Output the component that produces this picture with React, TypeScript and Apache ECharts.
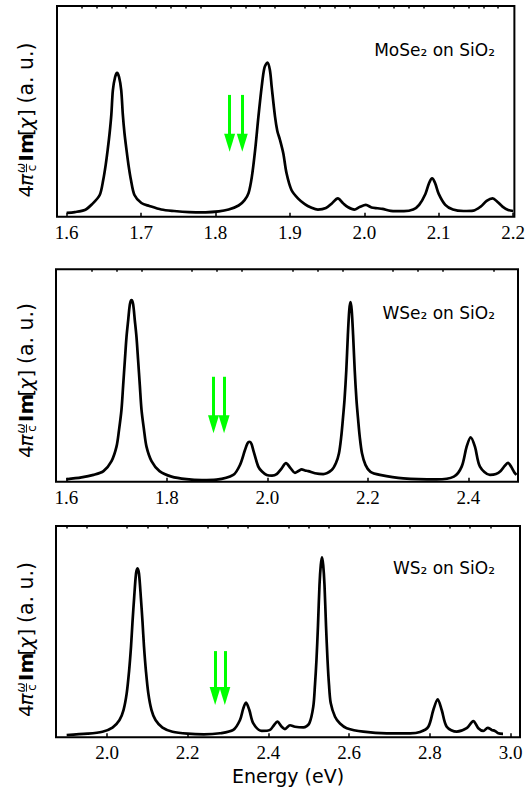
import React, { useEffect, useRef } from "react";
import * as echarts from "echarts";

// ---------- data ----------
const mose2Curve: number[][] = [
  [1.6, 1.8], [1.611, 2.2], [1.6244, 3.2], [1.6337, 5.8], [1.6444, 10.3], [1.6491, 17.4],
  [1.6524, 24.5], [1.6551, 31.7], [1.6577, 39.6], [1.66, 48.3], [1.6621, 60.1], [1.6651, 66.3],
  [1.6677, 68.3], [1.6704, 66.3], [1.6733, 60.1], [1.6755, 48.3], [1.6777, 39.6], [1.6804, 31.7],
  [1.6831, 24.5], [1.6864, 17.4], [1.6911, 10.3], [1.7004, 6.5], [1.7111, 5.1], [1.7271, 3.4],
  [1.7444, 2.7], [1.7644, 2.2], [1.7867, 2.1], [1.8044, 2.5], [1.8177, 3.4], [1.8311, 5.3],
  [1.8391, 7.9], [1.8444, 11.2], [1.8488, 18.8], [1.8533, 31.7], [1.8577, 47.5], [1.8621, 61.7],
  [1.8657, 70.6], [1.8697, 73.1], [1.8731, 69.6], [1.8755, 61.7], [1.88, 47.5], [1.8831, 40.7],
  [1.8867, 36.4], [1.8911, 30.1], [1.8955, 20.6], [1.9021, 12.7], [1.9111, 8.6], [1.92, 6.0],
  [1.9284, 4.4], [1.9377, 3.4], [1.9484, 4.1], [1.9564, 6.3], [1.9644, 8.7], [1.9711, 6.5],
  [1.9777, 4.6], [1.9867, 3.4], [1.9937, 4.6], [2.0021, 5.6], [2.0097, 4.4], [2.0177, 4.0],
  [2.0244, 3.7], [2.0355, 2.8], [2.0533, 2.6], [2.0657, 3.4], [2.0737, 5.6], [2.0821, 10.8],
  [2.0871, 16.0], [2.0911, 18.2], [2.0951, 16.0], [2.1, 10.8], [2.1088, 5.6], [2.1191, 3.4],
  [2.1333, 2.7], [2.1467, 2.9], [2.1564, 4.8], [2.1644, 7.5], [2.1724, 8.7], [2.1791, 7.0],
  [2.1857, 4.8], [2.1933, 3.2], [2.2, 2.7],
];

const wse2Curve: number[][] = [
  [1.6, 1.1], [1.6302, 2.0], [1.6541, 3.2], [1.674, 5.0], [1.69, 9.7], [1.6999, 16.5],
  [1.7049, 24.3], [1.7098, 33.8], [1.7132, 45.5], [1.7166, 57.3], [1.7198, 68.1], [1.7232, 76.1],
  [1.7266, 83.6], [1.7298, 85.5], [1.733, 83.6], [1.7363, 76.1], [1.7397, 68.1], [1.7429, 57.3],
  [1.7463, 45.5], [1.7497, 33.8], [1.7547, 24.3], [1.7596, 16.5], [1.7696, 9.7], [1.7855, 5.0],
  [1.8094, 2.4], [1.8392, 1.2], [1.87, 0.8], [1.8989, 1.0], [1.9323, 3.2], [1.9457, 7.9],
  [1.9556, 14.9], [1.9606, 18.0], [1.9642, 18.8], [1.9682, 18.0], [1.9721, 14.9], [1.9821, 7.1],
  [1.9895, 4.8], [1.9988, 3.2], [2.0094, 2.9], [2.0187, 3.6], [2.0287, 6.3], [2.0372, 8.7],
  [2.0466, 6.3], [2.0551, 4.2], [2.0621, 5.0], [2.0685, 5.8], [2.075, 5.3], [2.0816, 5.0],
  [2.0949, 4.0], [2.1114, 3.6], [2.1282, 5.5], [2.1367, 8.8], [2.1427, 13.4], [2.1471, 21.0],
  [2.1503, 29.0], [2.1537, 38.5], [2.1573, 52.6], [2.1604, 69.1], [2.1632, 80.8], [2.1656, 84.5],
  [2.168, 80.8], [2.1708, 69.1], [2.174, 52.6], [2.1775, 38.5], [2.1809, 29.0], [2.1841, 21.0],
  [2.1885, 13.4], [2.1954, 7.9], [2.2054, 4.6], [2.2243, 3.2], [2.2707, 1.6], [2.3371, 1.1],
  [2.3713, 2.4], [2.3869, 7.1], [2.3968, 16.5], [2.4048, 20.9], [2.4133, 16.5], [2.4233, 7.1],
  [2.4432, 3.2], [2.4551, 3.6], [2.4645, 5.0], [2.472, 7.3], [2.479, 8.9], [2.4855, 7.0],
  [2.4915, 4.5], [2.496, 3.2],
];

const ws2Curve: number[][] = [
  [1.9, 1.1], [1.9517, 1.7], [1.9888, 2.65], [2.0136, 4.6], [2.031, 8.2], [2.0409, 12.9],
  [2.0488, 20.8], [2.0545, 30.9], [2.0595, 42.9], [2.0632, 54.6], [2.0672, 65.9], [2.0719, 77.4],
  [2.0756, 80.0], [2.0793, 77.4], [2.084, 65.9], [2.088, 54.6], [2.0917, 42.9], [2.0967, 30.9],
  [2.1024, 20.8], [2.1103, 12.9], [2.1202, 8.2], [2.1375, 4.6], [2.1623, 2.65], [2.1995, 1.7],
  [2.24, 1.4], [2.28, 1.9], [2.313, 3.5], [2.3296, 8.2], [2.3378, 13.7], [2.3445, 16.4],
  [2.3527, 12.9], [2.3626, 6.6], [2.3834, 3.0], [2.404, 3.5], [2.4139, 5.8], [2.4221, 7.4],
  [2.433, 5.0], [2.4411, 3.9], [2.4535, 5.7], [2.4659, 5.0], [2.4865, 4.7], [2.5013, 6.6],
  [2.5112, 14.5], [2.5154, 24.8], [2.5191, 36.6], [2.5229, 53.1], [2.5266, 72.1], [2.5298, 81.5],
  [2.5328, 85.2], [2.5358, 81.5], [2.539, 72.1], [2.5427, 53.1], [2.5465, 36.6], [2.5502, 24.8],
  [2.5544, 16.2], [2.5651, 9.7], [2.5774, 6.5], [2.5941, 4.3], [2.6352, 2.65], [2.6932, 1.9],
  [2.7509, 1.9], [2.7757, 2.5], [2.7963, 5.0], [2.8087, 12.9], [2.8196, 18.0], [2.8295, 12.9],
  [2.8419, 5.0], [2.8667, 2.65], [2.8914, 4.3], [2.9078, 7.7], [2.9202, 4.3], [2.9326, 3.0],
  [2.9435, 4.5], [2.9534, 3.5], [2.9616, 3.0], [2.9698, 1.9], [2.9814, 1.6],
];

// arrow annotations: energies, arrow top value, arrow-head centre value
const mose2Arrows = [1.819, 1.836];
const wse2Arrows = [1.893, 1.914];
const ws2Arrows = [2.268, 2.292];
const arrowTop = [57.8, 49.4, 40.8];
const arrowHead = [35.1, 27.0, 19.6];

// axis ticks
const mose2Ticks = [1.6, 1.7, 1.8, 1.9, 2.0, 2.1, 2.2];
const wse2Ticks = [1.6, 1.8, 2.0, 2.2, 2.4];
const ws2Ticks = [2.0, 2.2, 2.4, 2.6, 2.8, 3.0];
const minorSpec = [
  [1.6, 2.2, 0.02],
  [1.6, 2.45, 0.05],
  [1.9, 3.0, 0.05],
];
const xRanges = [
  [1.587, 2.2017],
  [1.5795, 2.499],
  [1.8736, 3.0235],
];

const titles = ["MoSe₂ on SiO₂", "WSe₂ on SiO₂", "WS₂ on SiO₂"];

// ---------- layout ----------
const grids = [
  { left: 57, top: 6, width: 461, height: 210.7 },
  { left: 56, top: 269.3, width: 462, height: 212.4 },
  { left: 56, top: 526, width: 464, height: 211.3 },
];
const titleY = [50, 312.5, 568];
const ylabelStart = [197.5, 458, 717];

const SANS = '"DejaVu Sans", sans-serif';
const SERIF = '"Liberation Serif", serif';

function minorTicks(from: number, to: number, step: number, majors: number[]) {
  const out: number[] = [];
  const n = Math.round((to - from) / step);
  for (let i = 0; i <= n; i++) {
    const v = Math.round((from + i * step) * 1000) / 1000;
    if (!majors.some((m) => Math.abs(m - v) < 1e-6)) out.push(v);
  }
  return out;
}

function yLabel(x: number, y: number) {
  const t = (text: string, lx: number, font: string, ly = 0, align = "left") => ({
    type: "text",
    x: lx,
    y: ly,
    style: { text, font, fill: "#000", align, verticalAlign: "middle" },
  });
  return {
    type: "group",
    x,
    y,
    rotation: Math.PI / 2,
    silent: true,
    children: [
      t("4", 0, `20px ${SANS}`),
      t("π", 11.5, `italic 20px ${SANS}`),
      t("ω", 29.5, `italic 12px ${SANS}`, -5.5, "center"),
      {
        type: "line",
        shape: { x1: 25.3, y1: 0.5, x2: 33.7, y2: 0.5 },
        style: { stroke: "#000", lineWidth: 0.9 },
      },
      t("c", 29.5, `12px ${SANS}`, 6.3, "center"),
      t("Im", 36, `bold 20px ${SANS}`),
      t("[", 61.5, `20px ${SANS}`),
      t("χ", 68, `italic 20px ${SANS}`),
      t("]", 80.5, `20px ${SANS}`),
      t("(a. u.)", 94, `20.5px ${SANS}`),
    ],
  };
}

export default function App() {
  const ref = useRef<HTMLDivElement>(null);
  useEffect(() => {
    if (!ref.current) return;
    const chart = echarts.init(ref.current, undefined, { renderer: "svg" });
    const majors = [mose2Ticks, wse2Ticks, ws2Ticks];
    const curves = [mose2Curve, wse2Curve, ws2Curve];
    const arrows = [mose2Arrows, wse2Arrows, ws2Arrows];

    const xAxis: any[] = [];
    const yAxis: any[] = [];
    const series: any[] = [];
    grids.forEach((g, i) => {
      const [mn, mx] = xRanges[i];
      xAxis.push({
        type: "value",
        gridIndex: i,
        min: mn,
        max: mx,
        splitLine: { show: false },
        axisLine: { show: false },
        axisTick: {
          show: true,
          inside: true,
          length: 4,
          customValues: majors[i],
          lineStyle: { color: "#000", width: 1.5 },
        },
        axisLabel: {
          show: true,
          customValues: majors[i],
          formatter: (v: number) => v.toFixed(1),
          color: "#000",
          fontFamily: SERIF,
          fontSize: 19,
          margin: 6,
          showMinLabel: true,
          showMaxLabel: true,
        },
        ...(i === 2
          ? {
              name: "Energy (eV)",
              nameLocation: "middle",
              nameGap: 29,
              nameTextStyle: { color: "#000", fontFamily: SANS, fontSize: 19 },
            }
          : {}),
      });
      xAxis.push({
        type: "value",
        gridIndex: i,
        min: mn,
        max: mx,
        splitLine: { show: false },
        axisLine: { show: false },
        axisLabel: { show: false },
        axisTick: {
          show: true,
          inside: true,
          length: 2.5,
          customValues: minorTicks(minorSpec[i][0], minorSpec[i][1], minorSpec[i][2], majors[i]),
          lineStyle: { color: "#000", width: 1.5 },
        },
      });
      yAxis.push({ type: "value", gridIndex: i, min: 0, max: 100, show: false });
      series.push({
        type: "line",
        xAxisIndex: 2 * i,
        yAxisIndex: i,
        data: curves[i],
        showSymbol: false,
        symbol: "none",
        smooth: 0.3,
        lineStyle: { color: "#000", width: 2.7 },
        silent: true,
        markLine: {
          silent: true,
          symbol: ["none", "triangle"],
          symbolSize: [11, 18],
          label: { show: false },
          lineStyle: { color: "#00ff00", width: 3, type: "solid" },
          data: arrows[i].map((e) => [
            { coord: [e, arrowTop[i]] },
            { coord: [e, arrowHead[i]] },
          ]),
        },
      });
    });

    const graphic: any[] = [];
    titles.forEach((t, i) => {
      graphic.push({
        type: "text",
        x: 495,
        y: titleY[i],
        silent: true,
        style: { text: t, font: `17px ${SANS}`, fill: "#000", align: "right", verticalAlign: "middle" },
      });
      graphic.push(yLabel(26, ylabelStart[i]));
    });

    chart.setOption({
      animation: false,
      backgroundColor: "#fff",
      grid: grids.map((g) => ({
        ...g,
        show: true,
        borderColor: "#000",
        borderWidth: 2,
        backgroundColor: "transparent",
        containLabel: false,
      })),
      xAxis,
      yAxis,
      series,
      graphic,
    });
    return () => chart.dispose();
  }, []);
  return (
    <div
      ref={ref}
      style={{ position: "fixed", left: 0, top: 0, width: 528, height: 800, background: "#fff" }}
    />
  );
}
